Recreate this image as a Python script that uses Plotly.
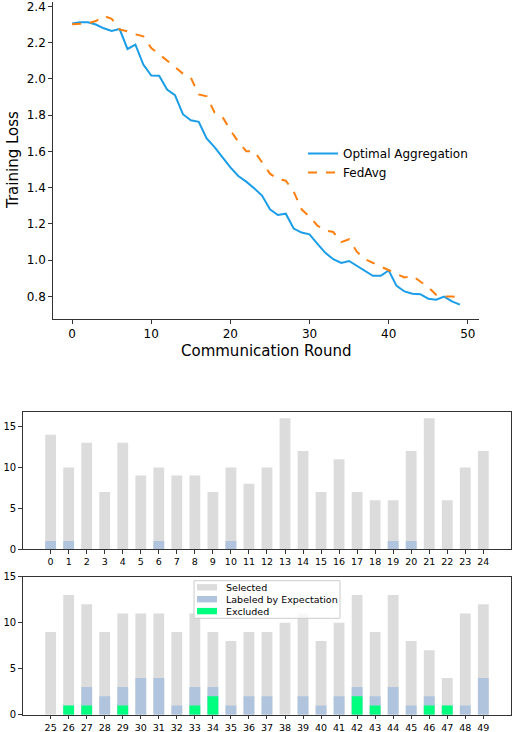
import plotly.graph_objects as go

W, H = 512, 732

# training loss per communication round
rounds = list(range(50))
optimal = [2.306, 2.312, 2.312, 2.300, 2.279, 2.264, 2.275, 2.165, 2.189, 2.079,
           2.018, 2.017, 1.941, 1.910, 1.805, 1.772, 1.763, 1.671, 1.623, 1.567,
           1.512, 1.464, 1.433, 1.396, 1.356, 1.280, 1.249, 1.256, 1.174, 1.152,
           1.142, 1.090, 1.040, 1.005, 0.984, 0.995, 0.968, 0.941, 0.913, 0.913,
           0.943, 0.858, 0.827, 0.814, 0.812, 0.787, 0.781, 0.799, 0.772, 0.754]
fedavg = [2.301, 2.305, 2.306, 2.319, 2.347, 2.332, 2.273, 2.262, 2.246, 2.235,
          2.170, 2.136, 2.103, 2.066, 2.029, 2.007, 1.914, 1.904, 1.815, 1.790,
          1.717, 1.653, 1.601, 1.601, 1.540, 1.477, 1.448, 1.438, 1.378, 1.280,
          1.240, 1.190, 1.163, 1.155, 1.099, 1.115, 1.045, 1.006, 0.985, 0.965,
          0.946, 0.928, 0.904, 0.913, 0.882, 0.851, 0.809, 0.799, 0.799, 0.794]

# client counts, clients 0-24
clients_a = list(range(25))
selected_a = [14, 10, 13, 7, 13, 9, 10, 9, 9, 7, 10, 8, 10, 16, 12, 7, 11, 7, 6, 6, 12, 16, 6, 10, 12]
labeled_a = [1, 1, 0, 0, 0, 0, 1, 0, 0, 0, 1, 0, 0, 0, 0, 0, 0, 0, 0, 1, 1, 0, 0, 0, 0]
excluded_a = [0] * 25

# clients 25-49
clients_b = list(range(25, 50))
selected_b = [9, 13, 12, 9, 11, 11, 11, 9, 11, 9, 8, 9, 9, 10, 11, 8, 10, 13, 9, 13, 8, 7, 4, 11, 12]
labeled_b = [0, 1, 3, 2, 3, 4, 4, 1, 3, 3, 1, 2, 2, 0, 2, 1, 2, 3, 2, 3, 1, 2, 1, 1, 4]
excluded_b = [0, 1, 1, 0, 1, 0, 0, 0, 1, 2, 0, 0, 0, 0, 0, 0, 0, 2, 1, 0, 0, 1, 1, 0, 0]

bar_names = ["Selected", "Labeled by Expectation", "Excluded"]
bar_colors = ["#dcdcdc", "#b0c4de", "#00ff7f"]

FONT = "DejaVu Sans"
SPINE = "#333333"


def px_x(v):
    return v / W


def px_y(v):
    return 1 - v / H


fig = go.Figure()

fig.add_trace(go.Scatter(x=rounds, y=optimal, mode="lines", name="Optimal Aggregation",
                         line=dict(color="#1b9de8", width=2), xaxis="x", yaxis="y"))
fig.add_trace(go.Scatter(x=rounds, y=fedavg, mode="lines", name="FedAvg",
                         line=dict(color="#ff7f0e", width=2, dash="dash"), xaxis="x", yaxis="y"))

panels = [("x2", "y2", clients_a, [selected_a, labeled_a, excluded_a]),
          ("x3", "y3", clients_b, [selected_b, labeled_b, excluded_b])]
for xa, ya, cl, series in panels:
    for name, color, vals in zip(bar_names, bar_colors, series):
        fig.add_trace(go.Bar(x=cl, y=vals, name=name, width=0.6, marker_color=color,
                             marker_line_width=0, xaxis=xa, yaxis=ya, showlegend=False))

axis_common = dict(showline=True, linecolor=SPINE, linewidth=1, ticks="outside", ticklen=3.5,
                   tickcolor=SPINE, showgrid=False, zeroline=False, automargin=False)

# legend box of the lower bar panel (matplotlib-style, drawn by hand)
shapes = [dict(type="rect", xref="paper", yref="paper", layer="above",
               x0=px_x(194), x1=px_x(340), y0=px_y(618.3), y1=px_y(580.7),
               fillcolor="rgba(255,255,255,0.8)", line=dict(color="#cccccc", width=1))]
annotations = [
    dict(text="Communication Round", x=px_x(266), y=px_y(351), xref="paper", yref="paper",
         showarrow=False, font=dict(size=15), xanchor="center", yanchor="middle"),
    dict(text="Training Loss", x=px_x(13), y=px_y(160), xref="paper", yref="paper",
         showarrow=False, font=dict(size=15), textangle=-90, xanchor="center", yanchor="middle"),
]
for k, (name, color) in enumerate(zip(bar_names, bar_colors)):
    yc = 587.3 + 11.9 * k
    shapes.append(dict(type="rect", xref="paper", yref="paper", layer="above",
                       x0=px_x(197), x1=px_x(217), y0=px_y(yc + 3.2), y1=px_y(yc - 3.2),
                       fillcolor=color, line=dict(width=0)))
    annotations.append(dict(text=name, x=px_x(224), y=px_y(yc), xref="paper", yref="paper",
                            showarrow=False, font=dict(size=9.5), xanchor="left", yanchor="middle"))

fig.update_layout(
    width=W, height=H,
    margin=dict(l=0, r=0, t=0, b=0),
    paper_bgcolor="white", plot_bgcolor="white",
    font=dict(family=FONT, color="black"),
    barmode="overlay",
    xaxis=dict(domain=[px_x(52.7), px_x(479.3)], range=[-2.45, 51.45], anchor="y",
               tickvals=[0, 10, 20, 30, 40, 50], tickfont=dict(size=12), **axis_common),
    yaxis=dict(domain=[px_y(319), px_y(1.5)], range=[0.675, 2.427], anchor="x",
               tickvals=[0.8, 1.0, 1.2, 1.4, 1.6, 1.8, 2.0, 2.2, 2.4], tickformat=".1f",
               tickfont=dict(size=12), ticklabeloverflow="allow", **axis_common),
    xaxis2=dict(domain=[px_x(22.7), px_x(510.7)], range=[-1.55, 25.52], anchor="y2",
                tickvals=clients_a, tickfont=dict(size=9.5), mirror=True, **axis_common),
    yaxis2=dict(domain=[px_y(549.3), px_y(411.7)], range=[0, 16.8], anchor="x2",
                tickvals=[0, 5, 10, 15], tickfont=dict(size=10), mirror=True, **axis_common),
    xaxis3=dict(domain=[px_x(22.7), px_x(510.7)], range=[23.45, 50.52], anchor="y3",
                tickvals=clients_b, tickfont=dict(size=9.5), mirror=True, **axis_common),
    yaxis3=dict(domain=[px_y(714.7), px_y(576.7)], range=[0, 15], anchor="x3",
                tickvals=[0, 5, 10, 15], tickfont=dict(size=10), mirror=True,
                ticklabeloverflow="allow", **axis_common),
    showlegend=True,
    legend=dict(x=px_x(303), y=px_y(139), xanchor="left", yanchor="top",
                bgcolor="rgba(255,255,255,0)", font=dict(size=12), itemwidth=30,
                tracegroupgap=0),
    shapes=shapes,
    annotations=annotations,
)

fig.write_html("out.html", config={"displayModeBar": False},
               post_script="document.body.style.margin='0px';")
